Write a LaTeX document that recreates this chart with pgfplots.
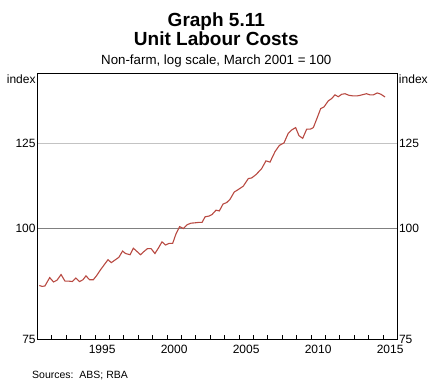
\documentclass[border=0pt]{standalone}
\usepackage{pgfplots}
\pgfplotsset{compat=1.18}
\usepackage{fontspec}
\setmainfont{Liberation Sans}
\definecolor{ulc}{RGB}{184,74,66}
\definecolor{grid125}{RGB}{195,195,195}
\definecolor{grid100}{RGB}{128,128,128}
\begin{document}
\begin{tikzpicture}
\useasboundingbox (-37.3pt,-46pt) rectangle (399.7pt,339pt);
\begin{axis}[
  at={(0pt,0pt)}, anchor=south west,
  scale only axis, width=360pt, height=266pt,
  xmin=1991, xmax=2016,
  ymode=log, ymin=75, ymax=150,
  axis line style={line width=0.9pt},
  axis on top,
  major tick length=0pt, minor tick length=4pt,
  xtick={1995.5,2000.5,2005.5,2010.5,2015.5},
  xticklabels={1995,2000,2005,2010,2015},
  minor xtick={1992,1993,...,2015},
  xtick pos=bottom,
  xtick style={line width=0.7pt, black},
  xticklabel style={font=\fontsize{12}{14}\selectfont, yshift=-2.5pt},
  ytick={75,100,125}, yticklabels={75,100,125},
  ytick pos=left,
  yticklabel style={font=\fontsize{12}{14}\selectfont, inner sep=1.5pt},
  clip=false,
]
\draw[grid125, line width=0.8pt] (axis cs:1991,125) -- (axis cs:2016,125);
\draw[grid100, line width=1.8pt] (axis cs:1991,100) -- (axis cs:2016,100);
\addplot[ulc, line width=1.1pt] coordinates {
(1991.14,86.2) (1991.33,86.0) (1991.53,86.1) (1991.86,88.0) (1992.13,87.0)
(1992.37,87.4) (1992.65,88.7) (1992.92,87.2) (1993.17,87.2) (1993.44,87.1)
(1993.67,87.9) (1993.93,87.1) (1994.17,87.5) (1994.38,88.4) (1994.63,87.5)
(1994.89,87.5) (1995.13,88.5) (1995.39,89.8) (1995.65,91.0) (1995.91,92.2)
(1996.14,91.5) (1996.43,92.2) (1996.67,92.8) (1996.92,94.3) (1997.13,93.7)
(1997.44,93.4) (1997.67,95.0) (1997.92,94.2) (1998.17,93.4) (1998.41,94.2)
(1998.65,94.9) (1998.90,94.9) (1999.17,93.7) (1999.42,95.1) (1999.66,96.6)
(1999.90,95.8) (2000.15,96.2) (2000.40,96.2) (2000.63,98.6) (2000.88,100.5)
(2001.15,100.0) (2001.40,101.0) (2001.67,101.4) (2001.95,101.5) (2002.19,101.6)
(2002.44,101.6) (2002.65,103.1) (2002.92,103.3) (2003.13,103.7) (2003.41,104.9)
(2003.64,104.7) (2003.90,106.6) (2004.15,107.0) (2004.38,107.9) (2004.68,110.0)
(2004.96,110.7) (2005.31,111.7) (2005.65,113.9) (2005.89,114.1) (2006.19,115.1)
(2006.58,116.9) (2006.88,119.3) (2007.16,118.9) (2007.51,122.2) (2007.81,124.2)
(2008.13,125.0) (2008.43,128.2) (2008.67,129.3) (2008.94,130.1) (2009.17,127.4)
(2009.43,126.5) (2009.71,129.6) (2009.97,129.6) (2010.17,130.1) (2010.44,133.5)
(2010.68,136.7) (2010.91,137.3) (2011.21,139.5) (2011.44,140.3) (2011.67,141.7)
(2011.90,141.0) (2012.14,141.9) (2012.37,142.1) (2012.65,141.5) (2012.94,141.3)
(2013.20,141.3) (2013.41,141.5) (2013.62,141.8) (2013.86,142.1) (2014.10,141.7)
(2014.35,141.7) (2014.61,142.4) (2014.87,141.9) (2015.15,140.9)
};
\node[anchor=north east, inner sep=1.5pt, font=\fontsize{12}{14}\selectfont] at (rel axis cs:0,1) {index};
\node[anchor=north west, inner sep=1.5pt, font=\fontsize{12}{14}\selectfont] at (rel axis cs:1,1) {index};
\end{axis}
\begin{axis}[
  at={(0pt,0pt)}, anchor=south west,
  scale only axis, width=360pt, height=266pt,
  xmin=1991, xmax=2016,
  ymode=log, ymin=75, ymax=150,
  axis line style={draw=none},
  major tick length=0pt,
  xtick=\empty,
  ytick={75,100,125}, yticklabels={75,100,125},
  ytick pos=right,
  yticklabel style={font=\fontsize{12}{14}\selectfont, inner sep=1.5pt},
]
\end{axis}
\node[anchor=base, font=\bfseries\fontsize{19}{22}\selectfont] at (179pt,312.3pt) {Graph 5.11};
\node[anchor=base, font=\bfseries\fontsize{19}{22}\selectfont] at (179pt,293.3pt) {Unit Labour Costs};
\node[anchor=base, font=\fontsize{13.3}{15}\selectfont] at (179pt,274pt) {Non-farm, log scale, March 2001 = 100};
\node[anchor=base west, inner sep=0pt, font=\fontsize{10.5}{12}\selectfont] at (-5.3pt,-40pt) {Sources:\ \ ABS; RBA};
\end{tikzpicture}
\end{document}
